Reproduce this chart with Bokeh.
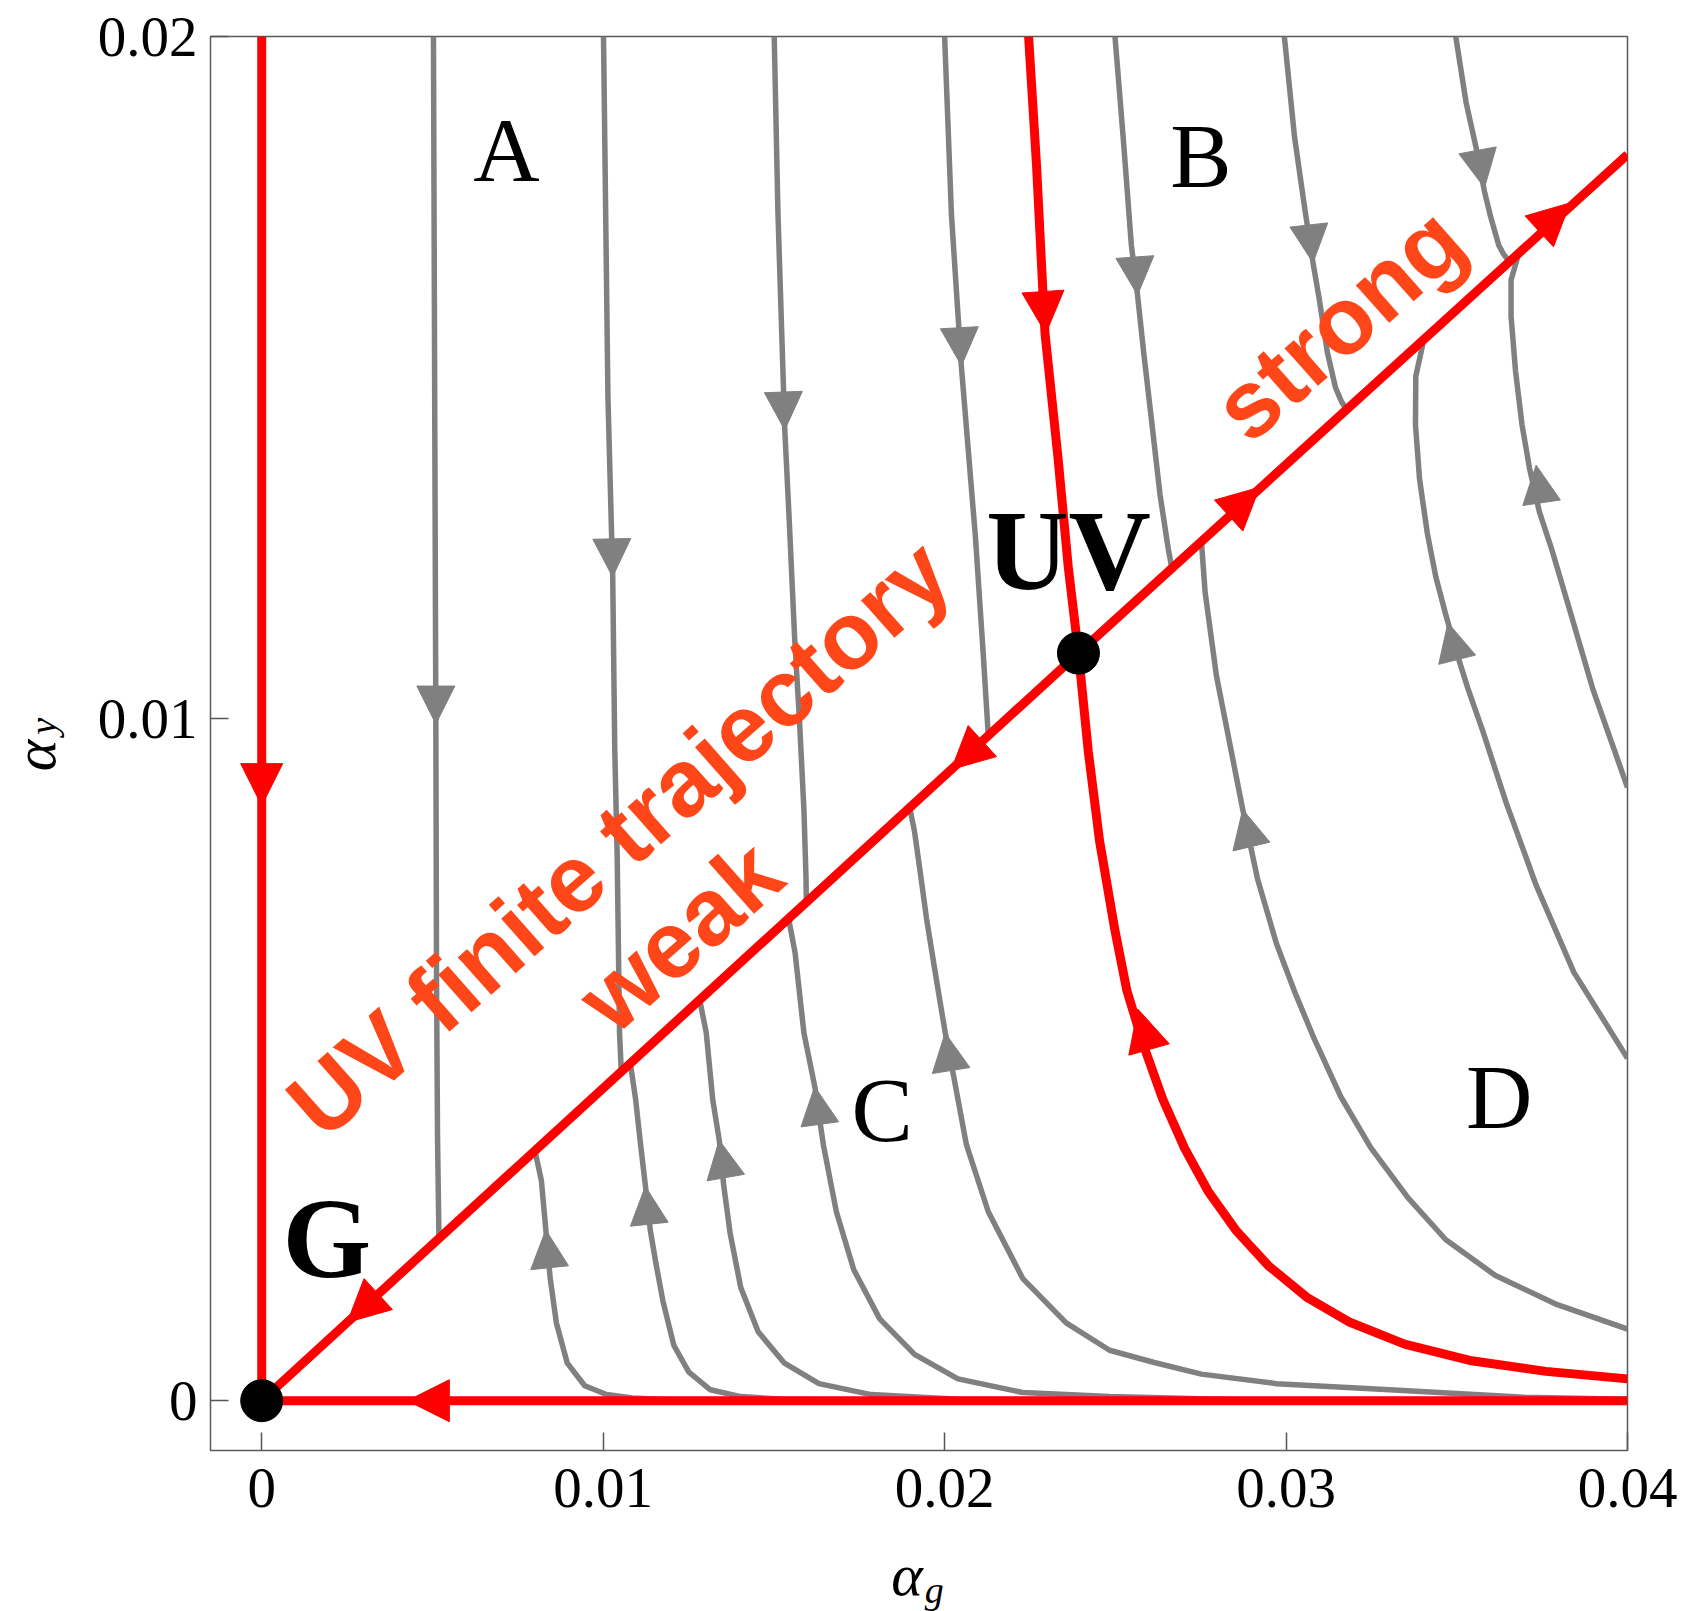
from bokeh.plotting import figure
from bokeh.layouts import row, column
from bokeh.models import Range1d, FixedTicker, ColumnDataSource, Arrow, NormalHead
from bokeh.core.properties import value
from bokeh.embed import file_html
from bokeh.resources import INLINE
import math

# ---------------- data ----------------
x_ticks = [0, 0.01, 0.02, 0.03, 0.04]
x_tick_labels = ["0", "0.01", "0.02", "0.03", "0.04"]
y_ticks = [0, 0.01, 0.02]
y_tick_labels = ["0", "0.01", "0.02"]

# fixed points G and UV
fp_x = [0.0, 0.02392]
fp_y = [0.0, 0.01096]

# red separatrices
red_vert_x = [0.0, 0.0]
red_vert_y = [0.0200, 0.0]
red_horiz_x = [0.0400, 0.0]
red_horiz_y = [0.0, 0.0]
red_diag_x = [0.0, 0.02392, 0.0400]
red_diag_y = [0.0, 0.01096, 0.01827]
red_sep_x = [0.02246, 0.02269, 0.02294, 0.02332, 0.02362, 0.02392, 0.02421, 0.02454, 0.02499,
             0.02534, 0.02582, 0.02639, 0.02703, 0.02773, 0.02853, 0.02948, 0.03060, 0.03187,
             0.03347, 0.03538, 0.03761, 0.0400]
red_sep_y = [0.0200, 0.01813, 0.01565, 0.01383, 0.01223, 0.01096, 0.00951, 0.00820, 0.00689,
             0.00601, 0.00522, 0.00442, 0.00370, 0.00306, 0.00250, 0.00198, 0.00152, 0.00115,
             0.00083, 0.00059, 0.00043, 0.00032]

# grey streamlines above the UV-finite trajectory (flowing down)
g1_x = [0.00503, 0.00507, 0.00510, 0.00512, 0.00515, 0.00519]
g1_y = [0.0200, 0.01415, 0.00992, 0.00617, 0.00383, 0.00240]
g2_x = [0.01001, 0.01014, 0.01028, 0.01034, 0.01041, 0.01048, 0.01053]
g2_y = [0.0200, 0.01471, 0.01208, 0.00954, 0.00801, 0.00539, 0.00484]
g3_x = [0.01501, 0.01512, 0.01532, 0.01545, 0.01561, 0.01575, 0.01588, 0.01594, 0.01595]
g3_y = [0.0200, 0.01739, 0.01423, 0.01290, 0.01116, 0.00997, 0.00866, 0.00768, 0.00731]
g4_x = [0.0200, 0.02020, 0.02049, 0.02090, 0.02113, 0.02128]
g4_y = [0.0200, 0.01739, 0.01517, 0.01268, 0.01096, 0.00975]
gb1_x = [0.02499, 0.02523, 0.02547, 0.02565, 0.02583, 0.02607, 0.02631, 0.02655, 0.02665]
gb1_y = [0.0200, 0.01852, 0.01694, 0.01621, 0.01537, 0.01433, 0.01328, 0.01249, 0.01222]
gb2_x = [0.02995, 0.03025, 0.03055, 0.03079, 0.03097, 0.03121, 0.03145, 0.03163, 0.03178]
gb2_y = [0.0200, 0.01852, 0.01747, 0.01668, 0.01616, 0.01537, 0.01485, 0.01464, 0.01453]
gb3_x = [0.03497, 0.03527, 0.03557, 0.03581, 0.03599, 0.03623, 0.03637, 0.03649]
gb3_y = [0.0200, 0.01904, 0.01836, 0.01773, 0.01736, 0.01694, 0.01681, 0.01673]

# grey streamlines below the UV-finite trajectory (flowing up)
c1_x = [0.00800, 0.00819, 0.00832, 0.00845, 0.00863, 0.00895, 0.00946, 0.01010, 0.01086, 0.01211]
c1_y = [0.00367, 0.00323, 0.00251, 0.00179, 0.00114, 0.00055, 0.00022, 0.00009, 0.00004, 0.00001]
c2_x = [0.01080, 0.01095, 0.01109, 0.01124, 0.01138, 0.01154, 0.01175, 0.01207, 0.01251, 0.01314,
        0.01403, 0.01531, 0.01721]
c2_y = [0.00493, 0.00442, 0.00378, 0.00314, 0.00250, 0.00203, 0.00146, 0.00081, 0.00042, 0.00016,
        0.00006, 0.00002, 0.00001]
c3_x = [0.01283, 0.01302, 0.01321, 0.01340, 0.01353, 0.01372, 0.01403, 0.01454, 0.01531, 0.01632,
        0.01785, 0.02039, 0.02295]
c3_y = [0.00587, 0.00539, 0.00441, 0.00382, 0.00316, 0.00245, 0.00166, 0.00101, 0.00055, 0.00025,
        0.00009, 0.00002, 0.00001]
c4_x = [0.01543, 0.01562, 0.01588, 0.01620, 0.01645, 0.01683, 0.01734, 0.01810, 0.01912, 0.02039,
        0.02229, 0.02483, 0.02900]
c4_y = [0.00707, 0.00657, 0.00539, 0.00460, 0.00375, 0.00277, 0.00192, 0.00120, 0.00068, 0.00032,
        0.00012, 0.00006, 0.00001]
c5_x = [0.01898, 0.01912, 0.01928, 0.01947, 0.01979, 0.02002, 0.02026, 0.02064, 0.02128, 0.02229,
        0.02356, 0.02483, 0.02614, 0.02752, 0.02972, 0.03303, 0.03697, 0.0400]
c5_y = [0.00869, 0.00834, 0.00777, 0.00707, 0.00608, 0.00539, 0.00477, 0.00375, 0.00277, 0.00179,
        0.00114, 0.00074, 0.00056, 0.00039, 0.00025, 0.00016, 0.00005, 0.00002]
d1_x = [0.02752, 0.02763, 0.02796, 0.02840, 0.02873, 0.02917, 0.02972, 0.03028, 0.03083, 0.03160,
        0.03248, 0.03358, 0.03468, 0.03612, 0.03788, 0.0400]
d1_y = [0.01260, 0.01185, 0.01063, 0.00951, 0.00867, 0.00764, 0.00670, 0.00596, 0.00530, 0.00446,
        0.00371, 0.00297, 0.00236, 0.00184, 0.00142, 0.00105]
d2_x = [0.03401, 0.03380, 0.03379, 0.03391, 0.03414, 0.03439, 0.03468, 0.03500, 0.03532, 0.03578,
        0.03645, 0.03733, 0.03843, 0.0400]
d2_y = [0.01550, 0.01502, 0.01431, 0.01351, 0.01271, 0.01207, 0.01152, 0.01096, 0.01045, 0.00979,
        0.00876, 0.00755, 0.00628, 0.00502]
d3_x = [0.03678, 0.03659, 0.03659, 0.03672, 0.03691, 0.03713, 0.03742, 0.03777, 0.03832, 0.03898, 0.0400]
d3_y = [0.01676, 0.01643, 0.01590, 0.01510, 0.01431, 0.01367, 0.01303, 0.01250, 0.01157, 0.01044, 0.00899]

# grey arrowheads: base point -> tip point
grey_arrow_x0 = [0.00510, 0.010247, 0.015267, 0.020414, 0.025555, 0.030645, 0.03557,
                 0.008462, 0.011378, 0.013629, 0.016382, 0.020239, 0.029061, 0.03506, 0.037514]
grey_arrow_y0 = [0.010622, 0.012791, 0.014944, 0.015885, 0.016892, 0.017337, 0.018437,
                 0.001802, 0.002456, 0.003164, 0.003917, 0.004689, 0.007967, 0.010766, 0.013062]
grey_arrow_x1 = [0.00510, 0.010276, 0.015318, 0.020494, 0.025651, 0.030789, 0.035812,
                 0.008319, 0.011235, 0.013399, 0.016195, 0.020016, 0.02873, 0.034741, 0.037323]
grey_arrow_y1 = [0.00992, 0.012078, 0.014231, 0.015174, 0.016211, 0.016683, 0.017783,
                 0.002504, 0.003142, 0.00382, 0.004604, 0.005391, 0.008667, 0.011404, 0.013716]

# red arrowheads: base point -> tip point
red_arrow_x0 = [0.0, 0.005625, 0.003541, 0.021234, 0.028191, 0.03728, 0.022869, 0.02604]
red_arrow_y0 = [0.009442, 0.0, 0.001622, 0.009729, 0.012917, 0.01708, 0.016348, 0.005056]
red_arrow_x1 = [0.0, 0.004265, 0.002505, 0.020198, 0.029227, 0.03832, 0.022964, 0.025657]
red_arrow_y1 = [0.008724, 0.0, 0.001148, 0.009255, 0.013392, 0.01756, 0.015646, 0.005742]

# region labels
region_text = ["A", "B", "C", "D"]
region_x = [0.00717, 0.02751, 0.01817, 0.03624]
region_y = [0.01833, 0.01825, 0.00426, 0.00445]
point_text = ["UV", "G"]
point_x = [0.02363, 0.00191]
point_y = [0.01247, 0.00238]
orange_text = ["UV finite trajectory", "weak", "strong"]
orange_x = [0.01045, 0.01224, 0.03154]
orange_y = [0.00825, 0.00682, 0.01579]

# axis title pieces
xlab_text = ["α", "g"]
xlab_x = [0.0189, 0.0197]
ylab_text = ["α", "y"]
ylab_y = [0.009458, 0.009888]

# ---------------- figure ----------------
RED = "#FF0000"
GREY = "#808080"
ORANGE = "#FF4619"

p = figure(width=1636, height=1536, output_backend="svg", toolbar_location=None,
           x_range=Range1d(-0.0015, 0.04), y_range=Range1d(-0.00073, 0.02),
           min_border_left=140, min_border_right=79, min_border_top=36, min_border_bottom=86)
p.background_fill_color = "white"
p.border_fill_color = "white"
p.xgrid.visible = False
p.ygrid.visible = False
p.outline_line_color = "#5a5a5a"
p.outline_line_width = 1.5

for ax, ticks, labels in ((p.xaxis[0], x_ticks, x_tick_labels), (p.yaxis[0], y_ticks, y_tick_labels)):
    ax.ticker = FixedTicker(ticks=ticks)
    ax.major_label_overrides = {t: l for t, l in zip(ticks, labels)}
    ax.axis_line_color = None
    ax.major_tick_in = 18
    ax.major_tick_out = 0
    ax.major_tick_line_color = "#555555"
    ax.major_tick_line_width = 1.5
    ax.minor_tick_line_color = None
    ax.major_label_text_font = "Liberation Serif"
    ax.major_label_text_font_size = "57px"
    ax.major_label_text_color = "black"
p.xaxis.major_label_standoff = 18
p.yaxis.major_label_standoff = 13

grey_xs = [g1_x, g2_x, g3_x, g4_x, gb1_x, gb2_x, gb3_x, c1_x, c2_x, c3_x, c4_x, c5_x, d1_x, d2_x, d3_x]
grey_ys = [g1_y, g2_y, g3_y, g4_y, gb1_y, gb2_y, gb3_y, c1_y, c2_y, c3_y, c4_y, c5_y, d1_y, d2_y, d3_y]
p.multi_line(xs=grey_xs, ys=grey_ys, line_color=GREY, line_width=5.5, line_join="round")

grey_src = ColumnDataSource(dict(x0=grey_arrow_x0, y0=grey_arrow_y0, x1=grey_arrow_x1, y1=grey_arrow_y1))
p.add_layout(Arrow(source=grey_src, x_start="x0", y_start="y0", x_end="x1", y_end="y1",
                   line_alpha=0,
                   end=NormalHead(size=38, fill_color=GREY, line_color=GREY, line_width=1)))

red_xs = [red_vert_x, red_horiz_x, red_diag_x, red_sep_x]
red_ys = [red_vert_y, red_horiz_y, red_diag_y, red_sep_y]
p.multi_line(xs=red_xs, ys=red_ys, line_color=RED, line_width=9, line_join="round")

red_src = ColumnDataSource(dict(x0=red_arrow_x0, y0=red_arrow_y0, x1=red_arrow_x1, y1=red_arrow_y1))
p.add_layout(Arrow(source=red_src, x_start="x0", y_start="y0", x_end="x1", y_end="y1",
                   line_alpha=0,
                   end=NormalHead(size=42, fill_color=RED, line_color=RED, line_width=1)))

p.scatter(fp_x, fp_y, size=42, color="black")

p.text(x=region_x, y=region_y, text=region_text, text_font=value("Liberation Serif"),
       text_font_size="92px", text_align="center", text_baseline="middle", text_color="black")
p.text(x=point_x, y=point_y, text=point_text, text_font=value("Liberation Serif"),
       text_font_style="bold", text_font_size="114px", text_align="center",
       text_baseline="middle", text_color="black")
p.text(x=orange_x, y=orange_y, text=orange_text, text_font=value("Liberation Sans"),
       text_font_style="bold", text_font_size="95px", text_align="center",
       text_baseline="middle", text_color=ORANGE, angle=math.radians(41.5))

# strip below the plot carrying the x-axis title (shares the x scale)
qb = figure(width=1636, height=75, output_backend="svg", toolbar_location=None,
            x_range=p.x_range, y_range=Range1d(0, 75),
            x_axis_location=None, y_axis_location=None,
            min_border_left=140, min_border_right=79, min_border_top=0, min_border_bottom=0)
qb.outline_line_color = None
qb.xgrid.visible = False
qb.ygrid.visible = False
qb.text(x=xlab_x, y=[36.5, 21.5], text=xlab_text, text_font=value("Liberation Serif"),
        text_font_style="italic", text_font_size=["60px", "38px"],
        text_align="center", text_baseline="middle", text_color="black")

# strip left of the plot carrying the y-axis title (shares the y scale)
ql = figure(width=70, height=1611, output_backend="svg", toolbar_location=None,
            x_range=Range1d(0, 70), y_range=p.y_range,
            x_axis_location=None, y_axis_location=None,
            min_border_left=0, min_border_right=0, min_border_top=36, min_border_bottom=161)
ql.outline_line_color = None
ql.xgrid.visible = False
ql.ygrid.visible = False
ql.text(x=[34, 42], y=ylab_y, text=ylab_text, text_font=value("Liberation Serif"),
        text_font_style="italic", text_font_size=["60px", "38px"], angle=math.pi / 2,
        text_align="center", text_baseline="middle", text_color="black")

layout = row(ql, column(p, qb, spacing=0), spacing=0)
open("out.html", "w").write(file_html(layout, INLINE))
